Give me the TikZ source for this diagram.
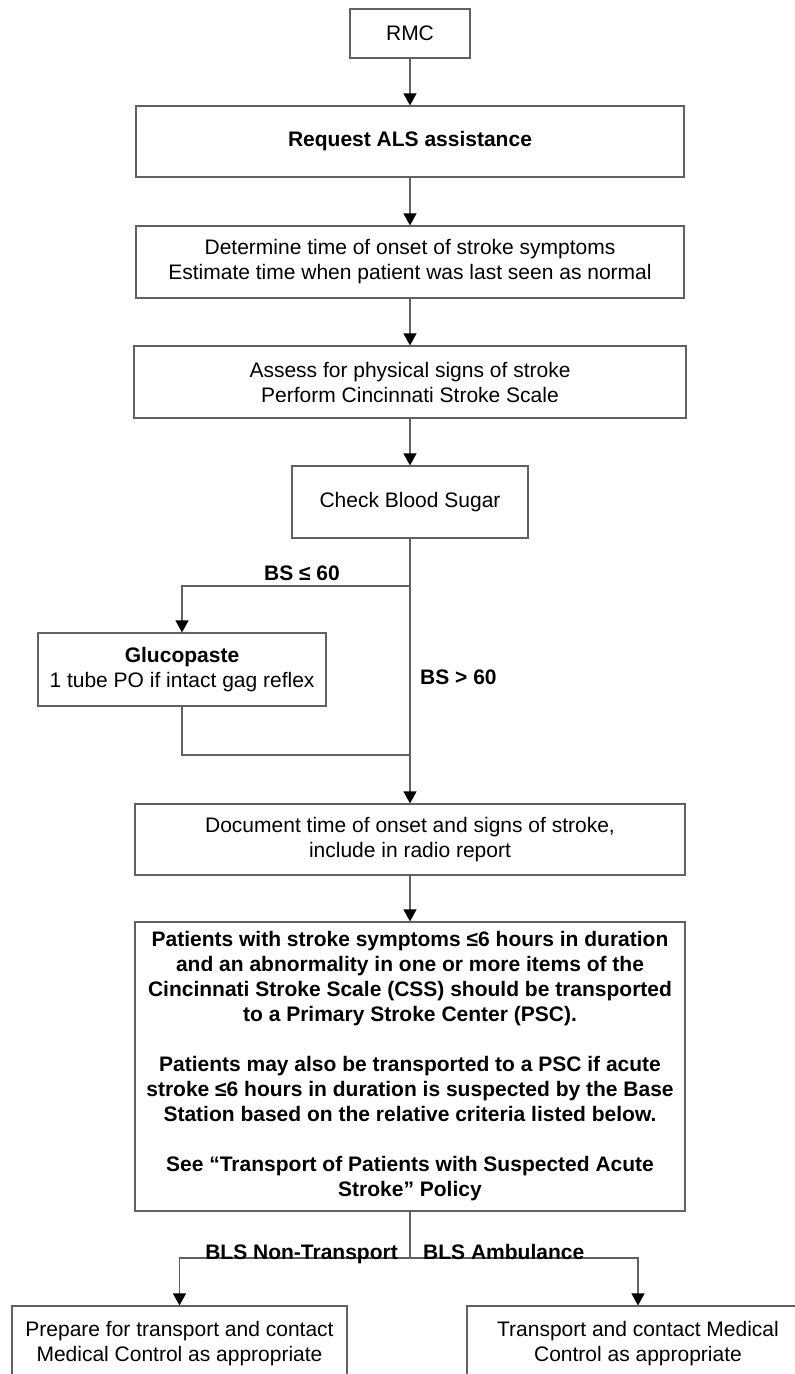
\documentclass[tikz,border=0pt]{standalone}
\usepackage{fontspec}
\setmainfont{Liberation Sans}
\usetikzlibrary{arrows.meta}

\begin{document}
\begin{tikzpicture}[x=1pt,y=-1pt,
  every node/.style={font=\fontsize{21}{25}\selectfont, align=center, inner sep=0pt},
  box/.style={draw=black!62, line width=1.2pt},
  boldbox/.style={box, font=\fontsize{21}{25}\selectfont\bfseries},
  link/.style={draw=black!62, line width=1.2pt},
  arr/.style={link, -{Triangle[length=12pt,width=13pt,color=black]}},
  lbl/.style={font=\fontsize{21}{25}\selectfont\bfseries},
]
\useasboundingbox[fill=white] (0,0) rectangle (795,1374);
\clip (0,0) rectangle (795,1374);

% main column of steps
\node[box, minimum width=120, minimum height=49] (rmc) at (410,33.5) {RMC};
\node[boldbox, minimum width=548, minimum height=71] (als) at (410,141.5) {Request ALS assistance};
\node[box, minimum width=548, minimum height=72] (onset) at (410,262)
  {Determine time of onset of stroke symptoms\\Estimate time when patient was last seen as normal};
\node[box, minimum width=552, minimum height=72] (assess) at (410,382)
  {Assess for physical signs of stroke\\Perform Cincinnati Stroke Scale};
\node[box, minimum width=236, minimum height=72] (bsugar) at (410,502) {Check Blood Sugar};
\node[box, minimum width=288, minimum height=73] (gluco) at (182,669.5)
  {\textbf{Glucopaste}\\1 tube PO if intact gag reflex};
\node[box, minimum width=550, minimum height=71] (doc) at (410,839.5)
  {Document time of onset and signs of stroke,\\include in radio report};
\node[boldbox, minimum width=550, minimum height=289] (psc) at (410,1066.5)
  {Patients with stroke symptoms ≤6 hours in duration\\
   and an abnormality in one or more items of the\\
   Cincinnati Stroke Scale (CSS) should be transported\\
   to a Primary Stroke Center (PSC).\\[25pt]
   Patients may also be transported to a PSC if acute\\
   stroke ≤6 hours in duration is suspected by the Base\\
   Station based on the relative criteria listed below.\\[25pt]
   See “Transport of Patients with Suspected Acute\\
   Stroke” Policy};

% final destinations
\node[box, minimum width=335, minimum height=75] (nontrans) at (179.5,1343.5)
  {Prepare for transport and contact\\Medical Control as appropriate};
\node[box, minimum width=342, minimum height=75] (ambul) at (638,1343.5)
  {Transport and contact Medical\\Control as appropriate};

% branch points
\coordinate (split) at (410,586);
\coordinate (merge) at (410,755);
\coordinate (fork) at (410,1258);

% connectors
\draw[arr] (rmc) -- (als);
\draw[arr] (als) -- (onset);
\draw[arr] (onset) -- (assess);
\draw[arr] (assess) -- (bsugar);
\draw[link] (bsugar.south) -- (split);
\draw[arr] (split) -| (gluco.north);
\draw[link] (gluco.south) |- (merge);
\draw[arr] (bsugar.south) -- (doc.north);
\draw[arr] (doc) -- (psc);
\draw[link] (psc.south) -- (fork);
\draw[arr] (fork) -| (nontrans.north);
\draw[arr] (fork) -| (ambul.north);

% branch labels
\node[lbl] (lowbs) at (302,573) {BS ≤ 60};
\node[lbl, anchor=west] (highbs) at (420,677) {BS > 60};
\node[lbl, anchor=base east] (nt) at (398,1259) {BLS Non-Transport};
\node[lbl, anchor=base west] (amb) at (423,1259) {BLS Ambulance};
\end{tikzpicture}
\end{document}
